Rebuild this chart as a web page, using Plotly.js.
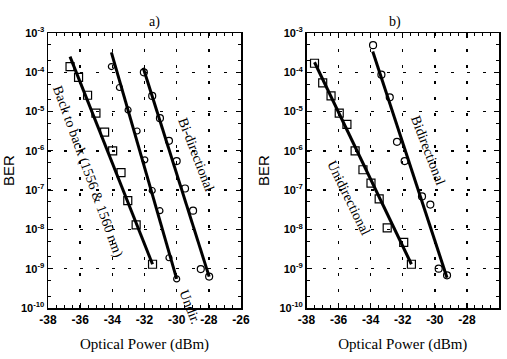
<!DOCTYPE html>
<html>
<head>
<meta charset="utf-8">
<script src="https://cdn.plot.ly/plotly-3.0.1.min.js"></script>
<style>html,body{margin:0;padding:0;background:#fff;}#chart{width:507px;height:359px;}</style>
</head>
<body>
<div id="chart"></div>
<script>
// ---- Panel a) data ----
const aBtbPower = [-36.63, -36.1, -35.54, -35.02, -34.48, -33.98, -33.46, -33.04, -32.52, -31.5];
const aBtbBer   = [1.4e-4, 7.4e-5, 2.6e-5, 9.1e-6, 3.0e-6, 1.0e-6, 2.8e-7, 5.4e-8, 1.3e-8, 1.3e-9];
const aUniPower = [-34.06, -33.56, -33.02, -32.46, -31.98, -31.52, -31.04, -30.48, -30.0];
const aUniBer   = [1.4e-4, 4.1e-5, 1.1e-5, 3.2e-6, 5.9e-7, 9.8e-8, 3.0e-8, 1.9e-9, 5.5e-10];
const aBiPower  = [-32.04, -31.52, -31.04, -30.48, -30.0, -29.48, -28.98, -28.5, -27.98];
const aBiBer    = [1.0e-4, 2.5e-5, 6.8e-6, 1.8e-6, 5.5e-7, 1.1e-7, 3.0e-8, 9.8e-10, 6.3e-10];
// fitted lines (end points)
const aBtbFitPower = [-36.63, -31.5];
const aBtbFitBer   = [2.5e-4, 1.3e-9];
const aUniFitPower = [-34.06, -30.0];
const aUniFitBer   = [3.2e-4, 5.5e-10];
const aBiFitPower  = [-32.08, -27.98];
const aBiFitBer    = [1.3e-4, 6.3e-10];

// ---- Panel b) data ----
const bUniPower = [-37.5, -36.99, -36.47, -35.96, -35.48, -34.97, -34.48, -33.98, -33.47, -32.97, -31.94, -31.46];
const bUniBer   = [1.7e-4, 5.4e-5, 2.5e-5, 9.1e-6, 4.7e-6, 1.0e-6, 3.3e-7, 1.5e-7, 6.0e-8, 1.1e-8, 4.7e-9, 1.3e-9];
const bBiPower  = [-33.85, -33.33, -32.81, -32.36, -31.88, -30.8, -30.28, -29.76, -29.24];
const bBiBer    = [4.9e-4, 8.7e-5, 2.3e-5, 1.7e-6, 5.5e-7, 6.9e-8, 4.3e-8, 1.0e-9, 6.8e-10];
const bUniFitPower = [-37.5, -31.46];
const bUniFitBer   = [1.8e-4, 1.3e-9];
const bBiFitPower  = [-33.87, -29.24];
const bBiFitBer    = [3.4e-4, 5.9e-10];

// ---- ticks ----
const xTickVals = [-38, -36, -34, -32, -30, -28, -26];
const xTickText = ['-38', '-36', '-34', '-32', '-30', '-28', '-26'];
const yTickVals = [1e-10, 1e-9, 1e-8, 1e-7, 1e-6, 1e-5, 1e-4, 1e-3];
const yTickText = ['10<sup>-10</sup>', '10<sup>-9</sup>', '10<sup>-8</sup>', '10<sup>-7</sup>', '10<sup>-6</sup>', '10<sup>-5</sup>', '10<sup>-4</sup>', '10<sup>-3</sup>'];

const serif = 'Liberation Serif, Times New Roman, serif';
const sans = 'Liberation Sans, Arial, sans-serif';

function fit(x, y, xa, ya) {
  return {x: x, y: y, xaxis: xa, yaxis: ya, mode: 'lines', line: {color: '#000', width: 3}, showlegend: false, hoverinfo: 'skip'};
}
function pts(x, y, xa, ya, sym, size) {
  return {x: x, y: y, xaxis: xa, yaxis: ya, mode: 'markers',
    marker: {symbol: sym, size: size, color: '#000', line: {color: '#000', width: 1.2}}, showlegend: false};
}

const traces = [
  fit(aBtbFitPower, aBtbFitBer, 'x', 'y'),
  fit(aUniFitPower, aUniFitBer, 'x', 'y'),
  fit(aBiFitPower, aBiFitBer, 'x', 'y'),
  pts(aBtbPower, aBtbBer, 'x', 'y', 'square-open', 8),
  pts(aUniPower, aUniBer, 'x', 'y', 'circle-open', 6),
  pts(aBiPower, aBiBer, 'x', 'y', 'circle-open', 7),
  fit(bUniFitPower, bUniFitBer, 'x2', 'y2'),
  fit(bBiFitPower, bBiFitBer, 'x2', 'y2'),
  pts(bUniPower, bUniBer, 'x2', 'y2', 'square-open', 8),
  pts(bBiPower, bBiBer, 'x2', 'y2', 'circle-open', 7)
];

function xAxis(domain, anchor) {
  return {
    domain: domain, anchor: anchor, range: [-38, -26], fixedrange: true,
    tickmode: 'array', tickvals: xTickVals, ticktext: xTickText,
    ticks: 'inside', ticklen: 5, tickwidth: 1.2, tickcolor: '#000',
    minor: {dtick: 0.5, ticks: 'inside', ticklen: 3, tickwidth: 1, tickcolor: '#000', showgrid: false},
    showline: true, linecolor: '#000', linewidth: 1.5, mirror: 'ticks',
    showgrid: true, gridcolor: '#000', gridwidth: 1.4, griddash: '3px,13px',
    zeroline: false,
    tickfont: {family: sans, size: 12, color: '#000', weight: 'bold'},
    title: {text: 'Optical Power (dBm)', font: {family: serif, size: 15, color: '#000'}, standoff: 12}
  };
}
function yAxis(domain, anchor) {
  return {
    domain: domain, anchor: anchor, type: 'log', range: [-10, -3], fixedrange: true,
    tickmode: 'array', tickvals: yTickVals, ticktext: yTickText,
    ticks: 'inside', ticklen: 5, tickwidth: 1.2, tickcolor: '#000',
    minor: {ticks: 'inside', ticklen: 3, tickwidth: 1, tickcolor: '#000', showgrid: false},
    showline: true, linecolor: '#000', linewidth: 1.5, mirror: 'ticks',
    showgrid: true, gridcolor: '#000', gridwidth: 1.4, griddash: '3px,13px',
    zeroline: false,
    tickfont: {family: sans, size: 11, color: '#000', weight: 'bold'},
    title: {text: 'BER', font: {family: sans, size: 15, color: '#000'}, standoff: 6}
  };
}

const yDom = [1 - 308 / 359, 1 - 33 / 359];
const layout = {
  width: 507, height: 359,
  margin: {l: 0, r: 0, t: 0, b: 0},
  paper_bgcolor: '#fff', plot_bgcolor: '#fff',
  showlegend: false,
  xaxis: xAxis([48 / 507, 241 / 507], 'y'),
  yaxis: yAxis(yDom, 'x'),
  xaxis2: xAxis([306.5 / 507, 499 / 507], 'y2'),
  yaxis2: yAxis(yDom, 'x2'),
  annotations: [
    {text: 'a)', xref: 'paper', yref: 'paper', x: 147 / 507, y: 1 - 12 / 359, showarrow: false, font: {family: serif, size: 14, color: '#000'}},
    {text: 'b)', xref: 'paper', yref: 'paper', x: 403 / 507, y: 1 - 12 / 359, showarrow: false, font: {family: serif, size: 14, color: '#000'}},
    {text: 'Back to back (1556 & 1560 nm)', xref: 'x', yref: 'y', x: -35.55, y: -6.55, showarrow: false, textangle: 70, font: {family: serif, size: 14, color: '#000'}},
    {text: 'Bi-directional', xref: 'x', yref: 'y', x: -28.8, y: -6.1, showarrow: false, textangle: 69, font: {family: serif, size: 14, color: '#000'}},
    {text: 'Undir.', xref: 'x', yref: 'y', x: -29.2, y: -9.97, showarrow: false, textangle: 69, font: {family: serif, size: 14, color: '#000'}},
    {text: 'Bidirectional', xref: 'x2', yref: 'y2', x: -30.4, y: -5.98, showarrow: false, textangle: 69, font: {family: serif, size: 14, color: '#000'}},
    {text: 'Unidirectional', xref: 'x2', yref: 'y2', x: -35.4, y: -7.2, showarrow: false, textangle: 64, font: {family: serif, size: 14, color: '#000'}}
  ]
};

Plotly.newPlot('chart', traces, layout, {staticPlot: true, displayModeBar: false});
</script>
</body>
</html>
